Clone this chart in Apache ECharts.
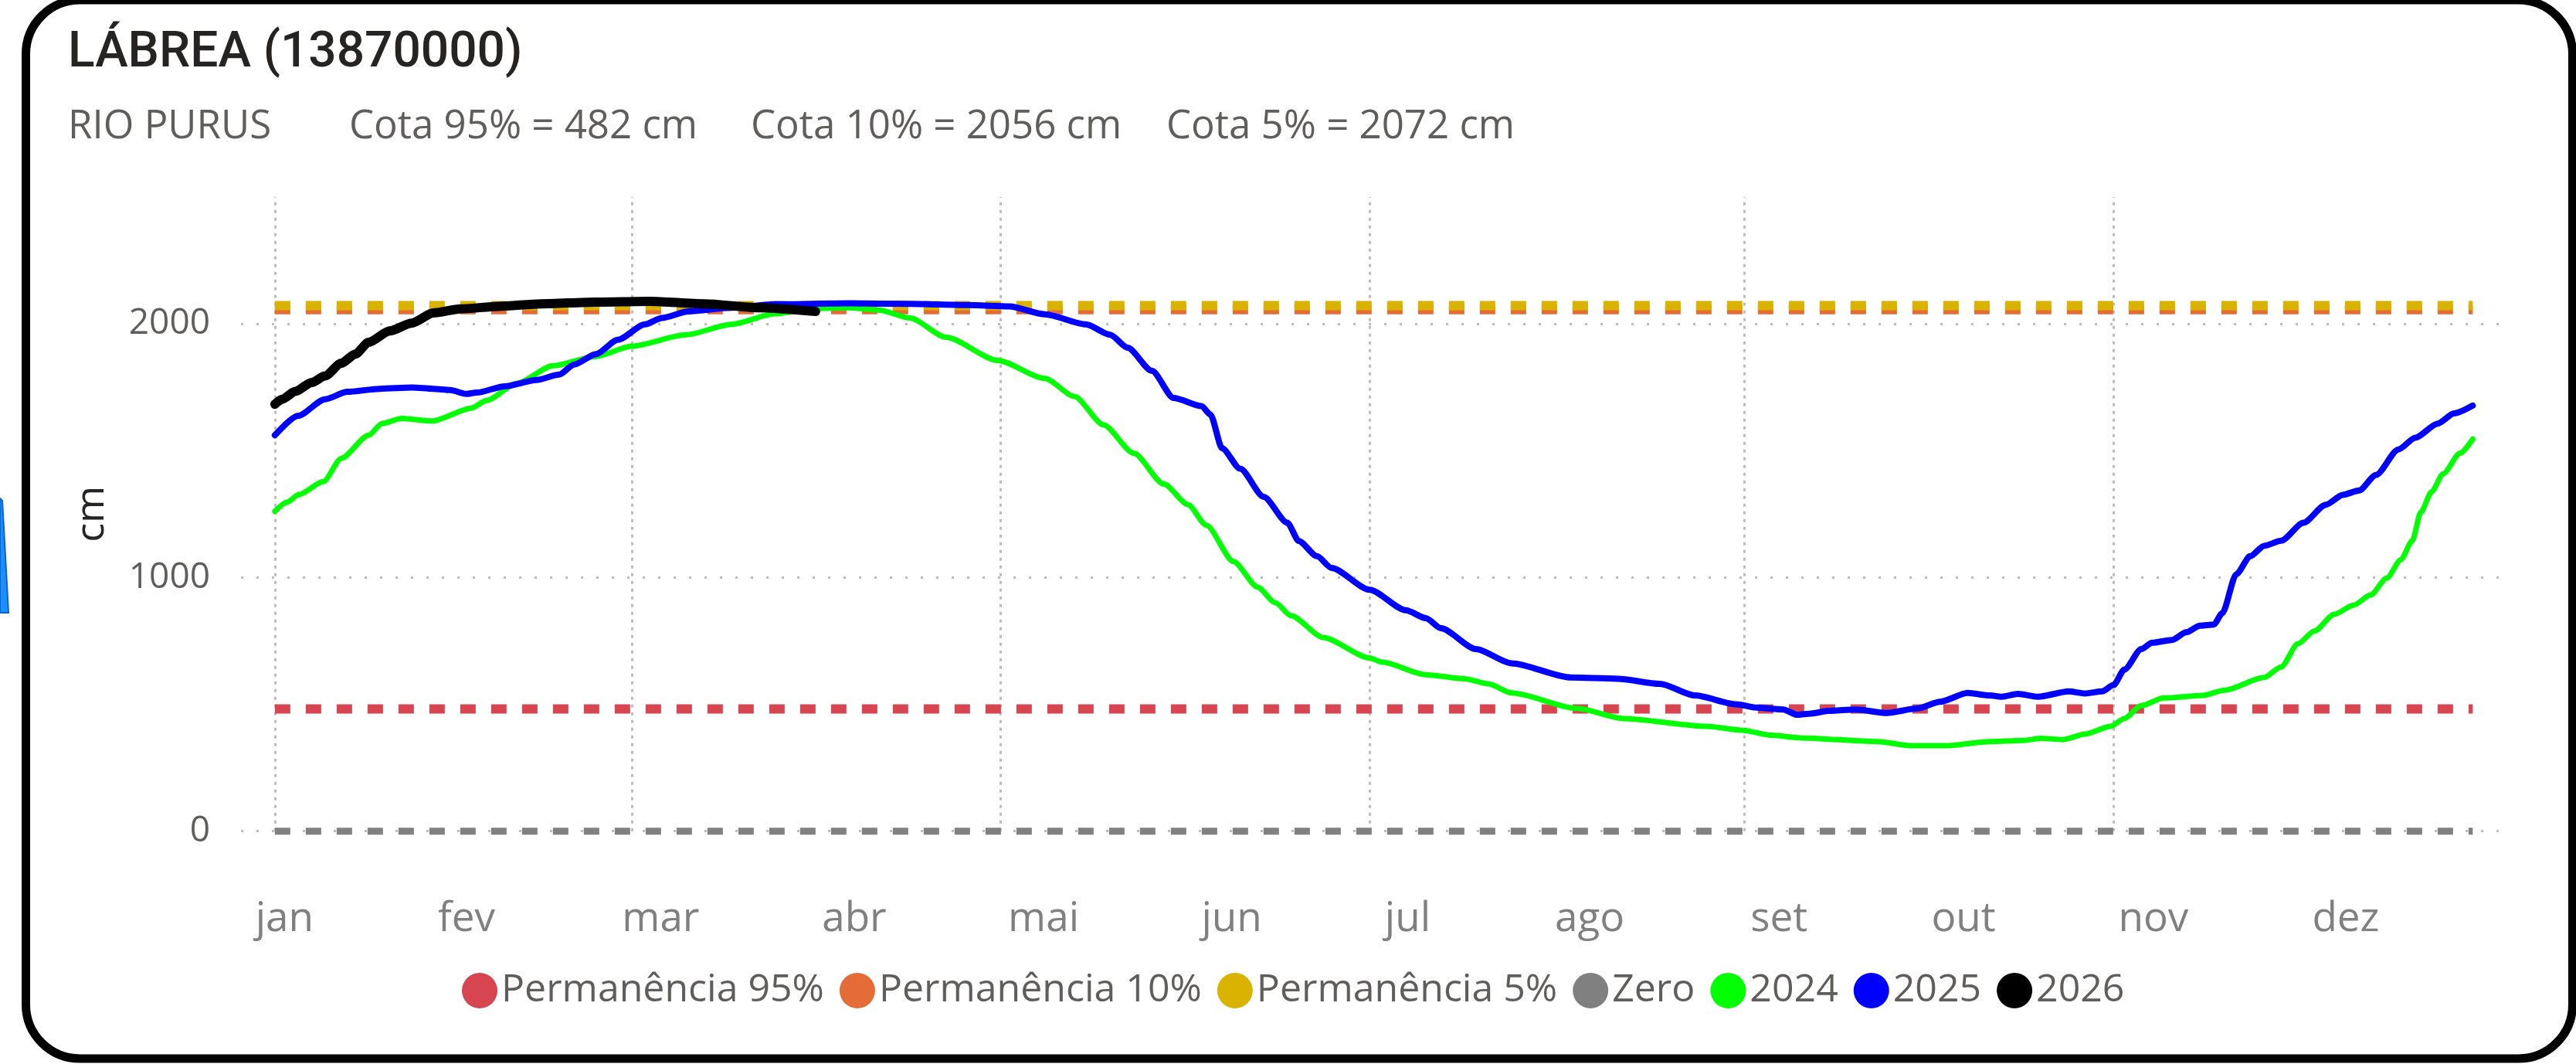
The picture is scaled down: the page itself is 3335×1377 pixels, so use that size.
<!DOCTYPE html>
<html>
<head>
<meta charset="utf-8">
<script src="https://cdn.jsdelivr.net/npm/echarts@6/dist/echarts.min.js"></script>
<style>
html,body{margin:0;padding:0;background:#ffffff;}
#chart{width:3335px;height:1377px;}
</style>
</head>
<body>
<div id="chart"></div>
<script>
// ---------- data ----------
const monthNames = ['jan','fev','mar','abr','mai','jun','jul','ago','set','out','nov','dez'];
// day-of-year positions of the month labels
const monthLabelDays = [1.6, 31.7, 63.8, 95.8, 127.1, 158.2, 187.3, 217.4, 248.7, 279.2, 310.6, 342.4];
// vertical gridlines (1st of jan, mar, mai, jul, set, nov)
const gridMonthDays = [0, 59, 120, 181, 243, 304];
const yTickValues = [0, 1000, 2000];

const legendNames = ['Permanência 95%', 'Permanência 10%', 'Permanência 5%', 'Zero', '2024', '2025', '2026'];
const thresholdDays = [0, 363.4];
const cota95 = 482;
const cota10 = 2056;
const cota5 = 2072;
const cotaZero = 0;

const serie2024 = [
  [0,1261],[2,1297],[4,1327],[8,1378],[11,1470],[15.5,1561],[17.7,1607],[21,1627],[26,1617],
  [32.5,1668],[35,1698],[40,1765],[46,1835],[53,1871],[59,1912],[68,1957],[75.5,1998],[82.7,2040],
  [89,2060],[95,2064],[100,2054],[105,2023],[111,1947],[119.5,1856],[127.3,1785],[132.2,1714],
  [137,1602],[142,1490],[147,1368],[151,1287],[154,1206],[158.5,1063],[162.5,962],[165.4,901],
  [168,850],[173.3,764],[181,683],[183,667],[190.3,617],[196.7,601],[200.6,581],[204.5,545],
  [215.3,484],[223,444],[236.8,413],[242.5,398],[247.6,378],[252.2,368],[265,353],[270.7,337],
  [276.2,337],[283.6,353],[289.2,358],[292,366],[295.6,361],[299.3,383],[303.5,413],[305.8,444],
  [308.6,495],[312.3,525],[318.7,535],[322.4,556],[328.9,606],[331.7,647],[334.5,739],[337.2,789],
  [340.5,855],[343.7,891],[346.5,931],[349.2,998],[351.5,1070],[353.4,1145],[354.8,1257],
  [356.6,1338],[358.5,1409],[361.3,1490],[363.4,1546]
];

const serie2025 = [
  [0,1561],[3.8,1637],[8.3,1703],[12,1732],[17.3,1744],[22.7,1749],[26.2,1744],[29,1739],
  [31.6,1724],[33.4,1729],[38,1754],[43.3,1779],[47,1800],[49.5,1840],[53.1,1881],[56.7,1937],
  [61.2,1998],[64,2023],[68.4,2049],[75.5,2064],[82.7,2077],[95,2081],[105,2079],[114.6,2074],
  [121.4,2069],[127.3,2038],[134.1,1998],[138.1,1957],[141,1906],[145,1815],[148.6,1708],
  [153.2,1676],[154.7,1642],[156.6,1510],[159.6,1429],[163.5,1318],[167.4,1216],[169.3,1144],
  [172.3,1084],[174.7,1038],[181,952],[187,871],[190.3,840],[192.8,800],[198.6,718],[204.5,662],
  [214.3,606],[222,601],[229,581],[234.8,535],[241.7,500],[245,487],[249.4,480],[251.7,459],
  [254,464],[256.8,474],[261.4,480],[266.5,466],[271.6,484],[275.3,510],[279.9,545],[283.6,535],
  [285.5,530],[288.2,541],[291.5,530],[296.6,551],[299.3,543],[302.1,551],[304,576],[305.8,637],
  [308.6,718],[310.4,743],[313.7,754],[316,784],[318.3,810],[320.6,815],[322,860],[324.3,1013],
  [326.6,1084],[328.9,1125],[331.7,1145],[335.4,1216],[339.1,1287],[341.9,1326],[344.6,1343],
  [347.4,1404],[351.1,1505],[353.9,1551],[357.6,1607],[360.3,1647],[363.4,1678]
];

const serie2026 = [
  [0,1683],[1.2,1703],[3.4,1734],[6.1,1769],[8.3,1795],[11,1845],[13.3,1881],[15.5,1927],
  [19,1972],[22.6,2003],[26.2,2043],[30.7,2059],[37,2069],[44,2079],[53,2086],[62,2089],
  [71,2079],[80,2064],[89.4,2049]
];

// ---------- chart ----------
const FONT = "'Open Sans', 'Noto Sans', sans-serif";
const chart = echarts.init(document.getElementById('chart'), null, {renderer: 'canvas'});

function flatLine(level) { return thresholdDays.map(d => [d, level]); }

function thresholdSeries(name, color, level, width) {
  return {
    name: name, type: 'line', data: flatLine(level), color: color,
    showSymbol: false, symbol: 'none', clip: false, z: 10, animation: false,
    lineStyle: {color: color, width: width, type: [20, 20], cap: 'butt'},
    itemStyle: {color: color}
  };
}
function yearSeries(name, color, data, width) {
  return {
    name: name, type: 'line', data: data, color: color,
    showSymbol: false, symbol: 'none', clip: false, z: 10, animation: false,
    smooth: 0.25, smoothMonotone: 'x',
    lineStyle: {color: color, width: width, cap: 'round', join: 'round'},
    itemStyle: {color: color}
  };
}

const zeroSeries = thresholdSeries('Zero', '#808080', cotaZero, 9);
zeroSeries.markLine = {
  silent: true, symbol: 'none', z: 1, animation: false,
  label: {show: false},
  lineStyle: {color: '#bdbdbd', width: 3, type: [4, 6]},
  emphasis: {disabled: true},
  data: gridMonthDays.map(d => ({xAxis: d}))
};

const option = {
  backgroundColor: '#ffffff',
  animation: false,
  title: [
    {text: 'LÁBREA (13870000)', left: 88, top: 38, padding: 0,
     textStyle: {fontFamily: "Roboto, 'Open Sans', sans-serif", fontWeight: 500, fontSize: 64, lineHeight: 64, color: '#252423'}},
    {text: 'RIO PURUS', left: 88, top: 139, padding: 0,
     textStyle: {fontFamily: FONT, fontWeight: 'normal', fontSize: 51, lineHeight: 51, color: '#605E5C'}},
    {text: 'Cota 95% = ' + cota95 + ' cm', left: 452, top: 139, padding: 0,
     textStyle: {fontFamily: FONT, fontWeight: 'normal', fontSize: 51, lineHeight: 51, color: '#605E5C'}},
    {text: 'Cota 10% = ' + cota10 + ' cm', left: 972, top: 139, padding: 0,
     textStyle: {fontFamily: FONT, fontWeight: 'normal', fontSize: 51, lineHeight: 51, color: '#605E5C'}},
    {text: 'Cota 5% = ' + cota5 + ' cm', left: 1510, top: 139, padding: 0,
     textStyle: {fontFamily: FONT, fontWeight: 'normal', fontSize: 51, lineHeight: 51, color: '#605E5C'}}
  ],
  legend: {
    data: legendNames, left: 598, top: 1257, padding: 0,
    icon: 'circle', itemWidth: 46, itemHeight: 50, itemGap: 20,
    textStyle: {fontFamily: FONT, fontSize: 50, color: '#605E5C'}
  },
  grid: {left: 312, right: 100, top: 255, bottom: 301.3, containLabel: false, outerBoundsMode: 'none'},
  xAxis: {
    type: 'value', min: -5.6, max: 367.7,
    axisLine: {show: false}, axisTick: {show: false}, splitLine: {show: false},
    axisLabel: {
      customValues: monthLabelDays,
      margin: 88, fontFamily: FONT, fontSize: 53, color: '#808080',
      formatter: function (v) {
        let best = 0, bd = 1e9;
        monthLabelDays.forEach((d, i) => { const dd = Math.abs(d - v); if (dd < bd) { bd = dd; best = i; } });
        return monthNames[best];
      }
    }
  },
  yAxis: {
    type: 'value', min: 0, max: 2500, interval: 1000,
    name: 'cm', nameLocation: 'middle', nameRotate: 90, nameGap: 167,
    nameTextStyle: {fontFamily: FONT, fontSize: 52, color: '#252423'},
    axisLine: {show: false}, axisTick: {show: false},
    axisLabel: {customValues: yTickValues, margin: 40, fontFamily: FONT, fontSize: 46, color: '#605E5C',
      formatter: function (v) { return String(v); }},
    splitLine: {show: true, showMaxLine: false, lineStyle: {color: '#bdbdbd', width: 3, type: [3, 17]}}
  },
  series: [
    thresholdSeries('Permanência 95%', '#D64550', cota95, 12),
    thresholdSeries('Permanência 10%', '#E66C37', cota10, 12),
    thresholdSeries('Permanência 5%', '#D9B300', cota5, 12),
    zeroSeries,
    yearSeries('2024', '#00FF00', serie2024, 7),
    yearSeries('2025', '#0000FF', serie2025, 8),
    yearSeries('2026', '#000000', serie2026, 12)
  ],
  graphic: [
    {type: 'rect', silent: true, z: 100,
     shape: {x: 33.5, y: 0, width: 3297, height: 1370, r: 70},
     style: {fill: 'none', stroke: '#000000', lineWidth: 11}},
    {type: 'polygon', silent: true, z: 100,
     shape: {points: [[0, 645], [3, 648], [11, 793], [0, 793]]},
     style: {fill: '#1a8fff', stroke: '#0d63c9', lineWidth: 2}}
  ]
};
chart.setOption(option);
</script>
</body>
</html>
